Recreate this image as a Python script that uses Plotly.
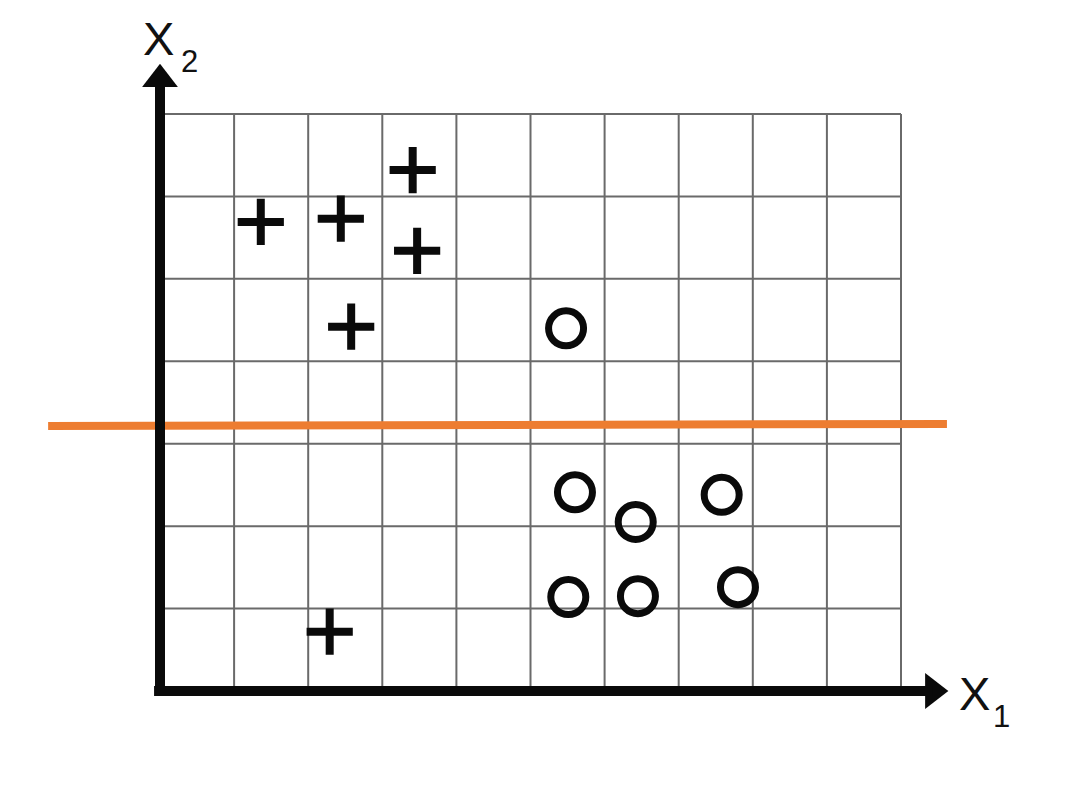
import plotly.graph_objects as go

# ---- data (grid units: x1 in 0..10, x2 in 0..7) ----
plus_x1 = [3.41, 1.36, 2.44, 3.47, 2.58, 2.29]
plus_x2 = [6.32, 5.69, 5.73, 5.34, 4.42, 0.72]

circle_x1 = [5.48, 5.60, 6.42, 7.58, 5.51, 6.45, 7.80]
circle_x2 = [4.40, 2.41, 2.05, 2.38, 1.14, 1.15, 1.26]

boundary_x1 = [-1.51, 10.62]
boundary_x2 = [3.215, 3.24]

grid_x_ticks = list(range(0, 11))
grid_y_ticks = list(range(0, 8))

x_label = "X"
x_sub = "1"
y_label = "X"
y_sub = "2"

# ---- layout geometry ----
W, H = 1082, 807
PX0, PXS = 160.0, 74.1   # pixel of x=0, pixels per unit
PY0, PYS = 691.0, 82.43  # pixel of y=0, pixels per unit
x_range = [-PX0 / PXS, (W - PX0) / PXS]
y_range = [(PY0 - H) / PYS, PY0 / PYS]

fig = go.Figure()

shapes = []
gx_max = grid_x_ticks[-1]
gy_max = grid_y_ticks[-1]
for gx in grid_x_ticks:
    shapes.append(dict(type="line", xref="x", yref="y", x0=gx, x1=gx, y0=0, y1=gy_max,
                       line=dict(color="#6a6a6a", width=2), layer="below"))
for gy in grid_y_ticks:
    shapes.append(dict(type="line", xref="x", yref="y", x0=0, x1=gx_max, y0=gy, y1=gy,
                       line=dict(color="#6a6a6a", width=2), layer="below"))
# main axes (thick black)
shapes.append(dict(type="line", xref="x", yref="y", x0=-0.08, x1=10.42, y0=0, y1=0,
                   line=dict(color="#0a0a0a", width=10)))
shapes.append(dict(type="line", xref="x", yref="y", x0=0, x1=0, y0=-0.06, y1=7.40,
                   line=dict(color="#0a0a0a", width=10)))

# arrow heads
fig.add_trace(go.Scatter(x=[10.43], y=[0], mode="markers", hoverinfo="skip",
                         marker=dict(symbol="triangle-right", size=31, color="#0a0a0a",
                                     line=dict(width=0))))
fig.add_trace(go.Scatter(x=[0], y=[7.42], mode="markers", hoverinfo="skip",
                         marker=dict(symbol="triangle-up", size=31, color="#0a0a0a",
                                     line=dict(width=0))))

# plus class
fig.add_trace(go.Scatter(x=plus_x1, y=plus_x2, mode="markers", name="+",
                         marker=dict(symbol="cross-thin-open", size=33, color="#0a0a0a",
                                     line=dict(color="#0a0a0a", width=8))))
# circle class
fig.add_trace(go.Scatter(x=circle_x1, y=circle_x2, mode="markers", name="o",
                         marker=dict(symbol="circle-open", size=35, color="#0a0a0a",
                                     line=dict(color="#0a0a0a", width=7))))
# decision boundary
fig.add_trace(go.Scatter(x=boundary_x1, y=boundary_x2, mode="lines", name="boundary",
                         line=dict(color="#ED7D31", width=8)))

font_main = dict(family="Liberation Sans, Arial, sans-serif", size=47, color="#111111")
font_sub = dict(family="Liberation Sans, Arial, sans-serif", size=31, color="#111111")

def pxpy(px, py):
    return px / W, 1 - py / H

annos = []
for txt, (px, py), f in [(y_label, (158, 38), font_main), (y_sub, (189, 61), font_sub),
                         (x_label, (974, 693), font_main), (x_sub, (1001, 716), font_sub)]:
    ax_, ay_ = pxpy(px, py)
    annos.append(dict(text=txt, x=ax_, y=ay_, xref="paper", yref="paper",
                      xanchor="center", yanchor="middle", showarrow=False, font=f))

fig.update_layout(
    width=W, height=H, margin=dict(l=0, r=0, t=0, b=0),
    paper_bgcolor="white", plot_bgcolor="white", showlegend=False,
    xaxis=dict(range=x_range, visible=False, fixedrange=True),
    yaxis=dict(range=y_range, visible=False, fixedrange=True),
    shapes=shapes, annotations=annos,
)

fig.write_html("out.html", config={"displayModeBar": False},
               post_script="document.body.style.margin='0';")
